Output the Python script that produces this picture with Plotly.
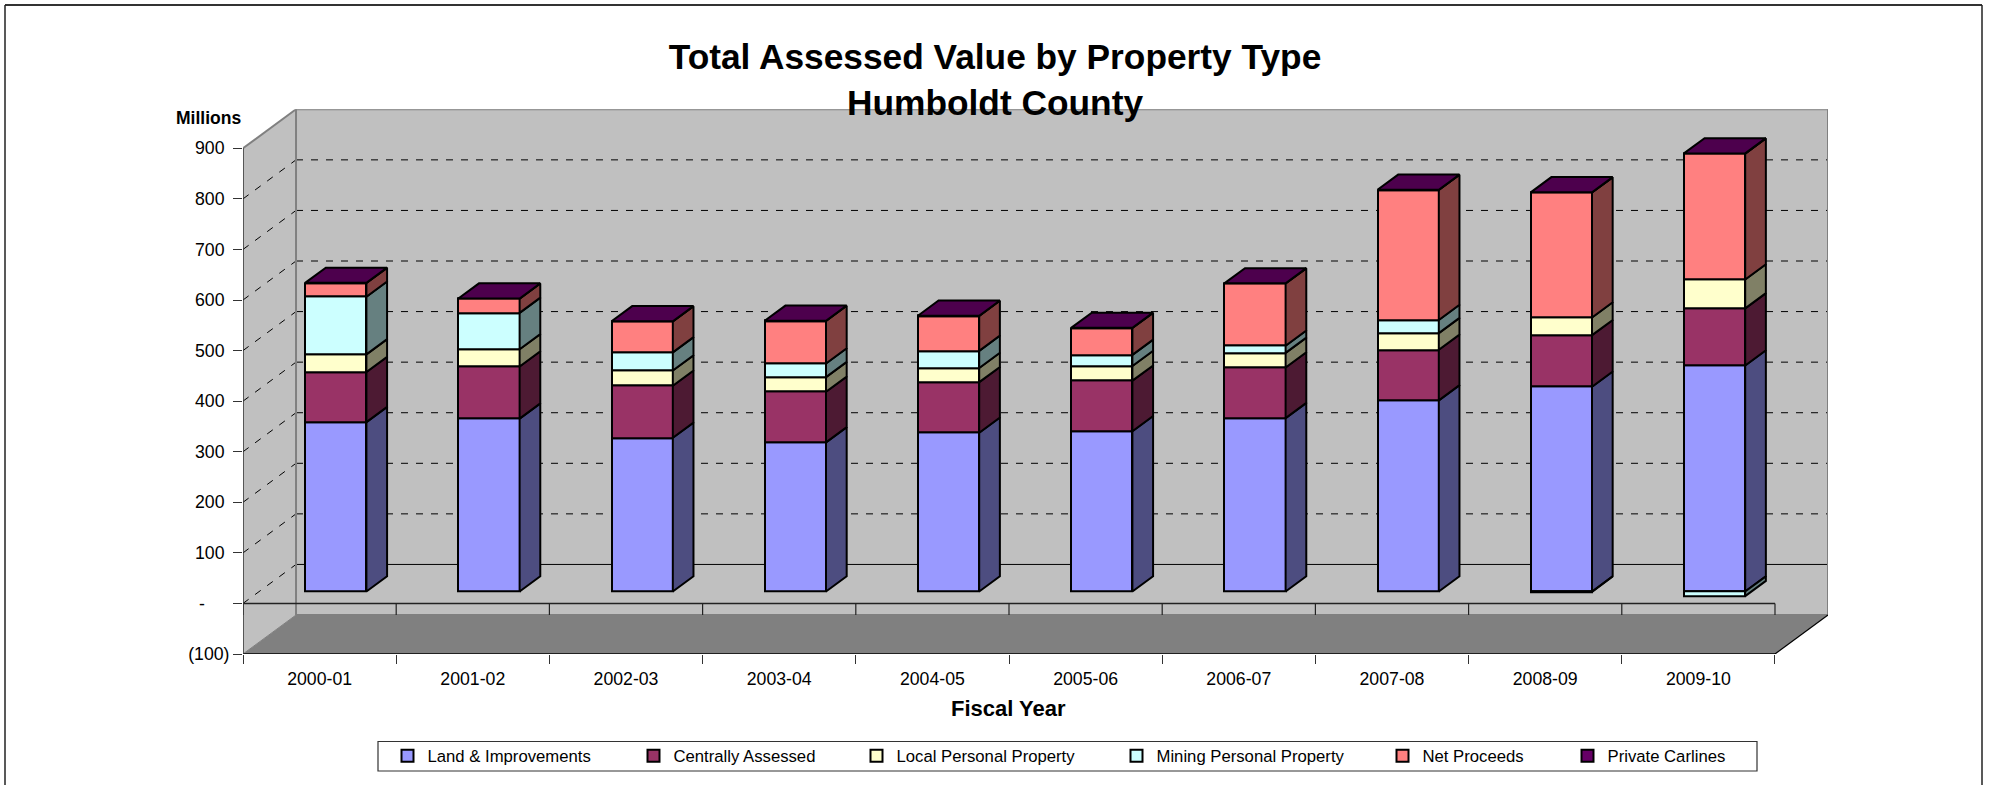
import plotly.graph_objects as go

# ---------- data (millions) ----------
categories = ["2000-01", "2001-02", "2002-03", "2003-04", "2004-05",
              "2005-06", "2006-07", "2007-08", "2008-09", "2009-10"]
land = [335, 342, 304, 295, 314, 317, 343, 378, 405, 447]
centrally = [99, 103, 103, 100, 100, 100, 100, 100, 102, 113]
local_pp = [35, 34, 30, 29, 28, 29, 29, 33, 35, 57]
mining = [114, 72, 36, 27, 34, 22, 14, 26, -1, -9]
net_proceeds = [27, 28, 61, 84, 69, 53, 123, 257, 247, 249]
carlines = [0.4, 0.4, 0.4, 0.4, 0.4, 0.4, 0.4, 0.4, 0.4, 0.4]

y_ticks = [-100, 0, 100, 200, 300, 400, 500, 600, 700, 800, 900]
y_labels = ["(100)", "-\u00a0\u00a0\u00a0\u00a0\u00a0", "100\u00a0", "200\u00a0", "300\u00a0", "400\u00a0",
            "500\u00a0", "600\u00a0", "700\u00a0", "800\u00a0", "900\u00a0"]

series_names = ["Land & Improvements", "Centrally Assessed", "Local Personal Property",
                "Mining Personal Property", "Net Proceeds", "Private Carlines"]
series_values = [land, centrally, local_pp, mining, net_proceeds, carlines]

# ---------- styles ----------
front_colors = ["#9999FF", "#993366", "#FFFFCC", "#CCFFFF", "#FF8080", "#660066"]
side_colors = ["#4D4D80", "#4D1A33", "#808066", "#668080", "#804040", "#330033"]
top_color = "#4D004D"
legend_spacing = [246, 223, 260, 266, 185, 200]

W, H = 1992, 785
FONT = "Liberation Sans"
DX, DV = 0.346, 77.1        # oblique depth of the box, in x-axis and y-axis units
T0, T1 = 0.305, 0.695       # depth range of the bars inside the box
BAR_W = 0.40
EDGE = 2
n = len(categories)


def px(x):
    return x / W


def py(y):
    return 1 - y / H


fig = go.Figure()

# ---------- stacked positions ----------
pos = [0.0] * n
neg = [0.0] * n
stacks = []
for vals in series_values:
    bottoms, tops = [], []
    for i, v in enumerate(vals):
        if v >= 0:
            bottoms.append(pos[i])
            pos[i] += v
            tops.append(pos[i])
        else:
            tops.append(neg[i])
            neg[i] += v
            bottoms.append(neg[i])
    stacks.append((bottoms, tops))

xc = [i + 0.5 + T0 * DX for i in range(n)]

# ---------- front faces ----------
for name, vals, col, (bots, tops), sp in zip(series_names, series_values, front_colors, stacks, legend_spacing):
    fig.add_trace(go.Bar(
        x=xc, y=[t - b for t, b in zip(tops, bots)], base=[b + T0 * DV for b in bots],
        width=BAR_W, name=name, customdata=categories,
        marker=dict(color=col, line=dict(color="black", width=EDGE)),
        legendwidth=sp - 45,
        hovertemplate="%{customdata}<br>" + name + "<extra></extra>",
    ))

# ---------- side faces ----------
for col, (bots, tops) in zip(side_colors, stacks):
    xs, ys = [], []
    for i in range(n):
        x0 = xc[i] + BAR_W / 2
        x1 = x0 + (T1 - T0) * DX
        xs += [x0, x1, x1, x0, x0, None]
        ys += [bots[i] + T0 * DV, bots[i] + T1 * DV, tops[i] + T1 * DV, tops[i] + T0 * DV, bots[i] + T0 * DV, None]
    fig.add_trace(go.Scatter(x=xs, y=ys, mode="lines", fill="toself", fillcolor=col,
                             line=dict(color="black", width=EDGE), hoverinfo="skip", showlegend=False))

# ---------- top faces ----------
xs, ys = [], []
for i in range(n):
    xl = xc[i] - BAR_W / 2
    xr = xc[i] + BAR_W / 2
    d = (T1 - T0) * DX
    top0, top1 = pos[i] + T0 * DV, pos[i] + T1 * DV
    xs += [xl, xr, xr + d, xl + d, xl, None]
    ys += [top0, top0, top1, top1, top0, None]
fig.add_trace(go.Scatter(x=xs, y=ys, mode="lines", fill="toself", fillcolor=top_color,
                         line=dict(color="black", width=EDGE), hoverinfo="skip", showlegend=False))

# ---------- box (walls, floor, gridlines) ----------
shapes = []


def poly(points, fill, line_col=None, lw=0):
    path = "M" + " L".join(f"{a},{b}" for a, b in points) + " Z"
    shapes.append(dict(type="path", path=path, xref="x", yref="y", layer="below",
                       fillcolor=fill, line=dict(color=line_col or fill, width=lw)))


def seg(x0, y0, x1, y1, color="black", width=1.0, dash="solid"):
    shapes.append(dict(type="line", x0=x0, y0=y0, x1=x1, y1=y1, xref="x", yref="y", layer="below",
                       line=dict(color=color, width=width, dash=dash)))


ymin, ymax = y_ticks[0], y_ticks[-1]
poly([(0, ymin), (DX, ymin + DV), (DX, ymax + DV), (0, ymax)], "#C0C0C0")
poly([(DX, ymin + DV), (n + DX, ymin + DV), (n + DX, ymax + DV), (DX, ymax + DV)], "#C0C0C0")
poly([(0, ymin), (n, ymin), (n + DX, ymin + DV), (DX, ymin + DV)], "#808080")

for v in y_ticks[1:-1]:
    seg(0, v, DX, v + DV, dash="7px,8px")
    seg(DX, v + DV, n + DX, v + DV, dash="solid" if v == 0 else "7px,8px")

seg(0, ymax, DX, ymax + DV, "#808080", 2)
seg(DX, ymax + DV, n + DX, ymax + DV, "#808080", 2)
seg(n + DX, ymax + DV, n + DX, ymin + DV, "#808080", 2)
seg(DX, ymax + DV, DX, ymin + DV, "#808080", 2)
seg(DX, ymin + DV, n + DX, ymin + DV, "#808080", 2)
seg(0, ymin, DX, ymin + DV, "#808080", 1)

seg(0, 0, n, 0, "#222222", 1.5)
for i in range(n + 1):
    seg(i, 0, i, ymin + DV, "#222222", 1.2)
seg(0, ymin, n, ymin, "black", 1.5)
seg(n, ymin, n + DX, ymin + DV, "black", 1.2)
seg(0, ymin, 0, ymax, "#333333", 1.5)

# outer frame and legend box (paper coordinates)
FRAME = dict(xref="paper", yref="paper", type="line", layer="above")
shapes.append(dict(FRAME, x0=px(5), x1=px(1982), y0=py(5), y1=py(5), line=dict(color="#333333", width=2)))
shapes.append(dict(FRAME, x0=px(5), x1=px(5), y0=py(5), y1=0, line=dict(color="#222222", width=1.5)))
shapes.append(dict(FRAME, x0=px(1982), x1=px(1982), y0=py(5), y1=0, line=dict(color="#222222", width=1.5)))
shapes.append(dict(type="rect", xref="paper", yref="paper", layer="above",
                   x0=px(378), x1=px(1757), y0=py(771), y1=py(741.5),
                   fillcolor="white", line=dict(color="#333333", width=1.2)))

fig.update_layout(
    width=W, height=H, autosize=False,
    margin=dict(l=0, r=0, t=0, b=0),
    paper_bgcolor="white", plot_bgcolor="rgba(0,0,0,0)",
    barmode="overlay", bargap=0,
    font=dict(family=FONT, color="black", size=17),
    shapes=shapes,
    title=dict(
        text="Total Assessed Value by Property Type<br>Humboldt County",
        x=px(995), xanchor="center", xref="paper",
        y=py(69), yanchor="top", yref="paper",
        font=dict(family=FONT, size=35.3, color="black", weight=700),
    ),
    xaxis=dict(
        domain=[px(243), px(1828)], range=[0, n + DX], showgrid=False, zeroline=False, showline=False,
        tickmode="array", tickvals=[i + 0.5 for i in range(n)], ticktext=categories, ticks="",
        tickfont=dict(size=17.7, family=FONT), ticklabelstandoff=12, tickangle=0,
        minor=dict(tickmode="array", tickvals=list(range(n + 1)), ticks="outside", ticklen=9,
                   tickcolor="#333333", tickwidth=1.2, showgrid=False),
        automargin=False, fixedrange=True,
    ),
    yaxis=dict(
        domain=[py(654), py(109.3)], range=[ymin, ymax + DV], showgrid=False, zeroline=False, showline=False,
        tickmode="array", tickvals=y_ticks, ticktext=y_labels, ticks="outside", ticklen=9,
        tickcolor="#333333", tickwidth=1.2, tickfont=dict(size=17.7, family=FONT),
        automargin=False, fixedrange=True,
    ),
    legend=dict(
        orientation="h", x=px(387.5), xanchor="left", y=py(756), yanchor="middle",
        bgcolor="rgba(0,0,0,0)", borderwidth=0, traceorder="normal",
        font=dict(family=FONT, size=16.7, color="black"), itemwidth=30, itemclick=False, itemdoubleclick=False,
    ),
    annotations=[
        dict(text="<b>Millions</b>", x=px(208), y=py(118), xref="paper", yref="paper",
             xanchor="center", yanchor="middle", showarrow=False,
             font=dict(family=FONT, size=17.5, color="black")),
        dict(text="<b>Fiscal Year</b>", x=px(1008.5), y=py(708), xref="paper", yref="paper",
             xanchor="center", yanchor="middle", showarrow=False,
             font=dict(family=FONT, size=22, color="black")),
    ],
)

fig.write_html("out.html", config={"displayModeBar": False},
               post_script="document.body.style.margin='0';document.body.style.overflow='hidden';")
